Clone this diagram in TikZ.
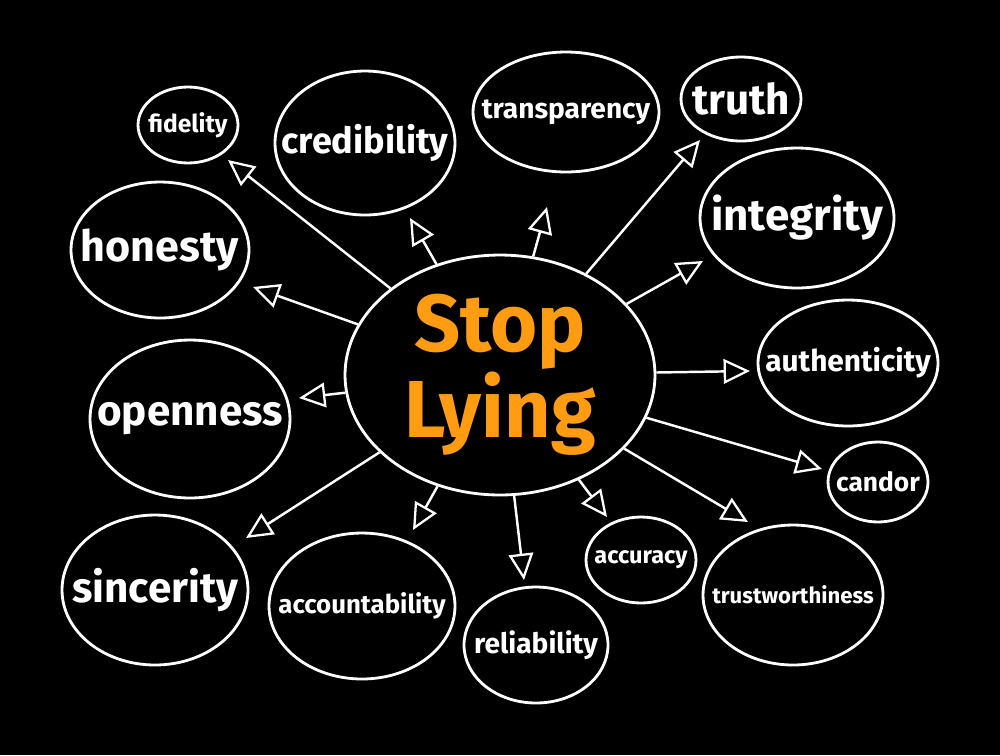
\documentclass[tikz,border=0pt]{standalone}
\usepackage{fontspec}
\setmainfont{Fira Sans}
\usepackage{tikz}
\usetikzlibrary{shapes.geometric, arrows.meta, positioning}
\definecolor{stoporange}{HTML}{FF9C12}
\definecolor{bgblack}{HTML}{000000}

\begin{document}
\begin{tikzpicture}[
  x=0.02cm, y=-0.02cm,
  ring/.style={ellipse, draw=white, line width=1.6pt, inner sep=0pt},
  bubble/.style 2 args={
    text=white, inner sep=0pt,
    label={[ring, minimum width=#1, minimum height=#2]center:{}}
  },
  word/.style={font=\fontsize{#1}{#1}\selectfont\bfseries},
  arrow/.style={-{Triangle[open, length=15pt, width=14pt, line width=1.3pt]},
    line width=1.4pt, color=white}
]

% Background
\fill[bgblack] (0,0) rectangle (1000,755);

% Center
\node[ring, minimum width=6.2cm, minimum height=4.8cm,
      text=stoporange, align=center,
      font=\fontsize{46}{49}\selectfont\bfseries] (stop)
      at (500,375) {Stop\\Lying};

% Outer bubbles -- top
\node[bubble={2.0cm}{1.52cm}, word=14]
      (fidelity) at (188,125) {fidelity};
\node[bubble={3.6cm}{2.88cm}, word=20.5]
      (credibility) at (365,143) {credibility};
\node[bubble={3.72cm}{2.4cm}, word=16]
      (transparency) at (566,112) {transparency};
\node[bubble={2.4cm}{1.68cm}, word=24]
      (truth) at (741,99) {truth};

% Outer bubbles -- right
\node[bubble={3.88cm}{2.8cm}, word=25]
      (integrity) at (797,218) {integrity};
\node[bubble={3.6cm}{2.52cm}, word=17]
      (authenticity) at (848,363) {authenticity};
\node[bubble={2.0cm}{1.6cm}, word=15]
      (candor) at (878,482) {candor};
\node[bubble={3.6cm}{2.8cm}, word=12.6]
      (trustworthiness) at (793,595) {trustworthiness};

% Outer bubbles -- bottom
\node[bubble={2.2cm}{1.72cm}, word=13.4]
      (accuracy) at (641,560) {accuracy};
\node[bubble={2.88cm}{2.32cm}, word=16]
      (reliability) at (536,645) {reliability};
\node[bubble={3.72cm}{2.92cm}, word=14.7]
      (accountability) at (362,606) {accountability};

% Outer bubbles -- left
\node[bubble={3.72cm}{3.0cm}, word=24]
      (sincerity) at (155,590) {sincerity};
\node[bubble={4.0cm}{3.16cm}, word=24]
      (openness) at (190,419) {openness};
\node[bubble={3.56cm}{2.72cm}, word=24.5]
      (honesty) at (160,250) {honesty};

% Arrow tips
\coordinate (fidelity-tip)        at (228,160);
\coordinate (credibility-tip)     at (410,218);
\coordinate (transparency-tip)    at (547,207);
\coordinate (truth-tip)           at (700,140);
\coordinate (integrity-tip)       at (703,261);
\coordinate (authenticity-tip)    at (750,371);
\coordinate (candor-tip)          at (822,469);
\coordinate (trustworthiness-tip) at (748,522);
\coordinate (accuracy-tip)        at (607,517);
\coordinate (reliability-tip)     at (524,580);
\coordinate (accountability-tip)  at (413,530);
\coordinate (sincerity-tip)       at (246,538);
\coordinate (openness-tip)        at (299,398);
\coordinate (honesty-tip)         at (253,287);

% Arrows
\foreach \w in {fidelity,credibility,transparency,truth,integrity,
                authenticity,candor,trustworthiness,accuracy,reliability,
                accountability,sincerity,openness,honesty}{
  \draw[arrow] (stop) -- (\w-tip);
}

\end{tikzpicture}
\end{document}
